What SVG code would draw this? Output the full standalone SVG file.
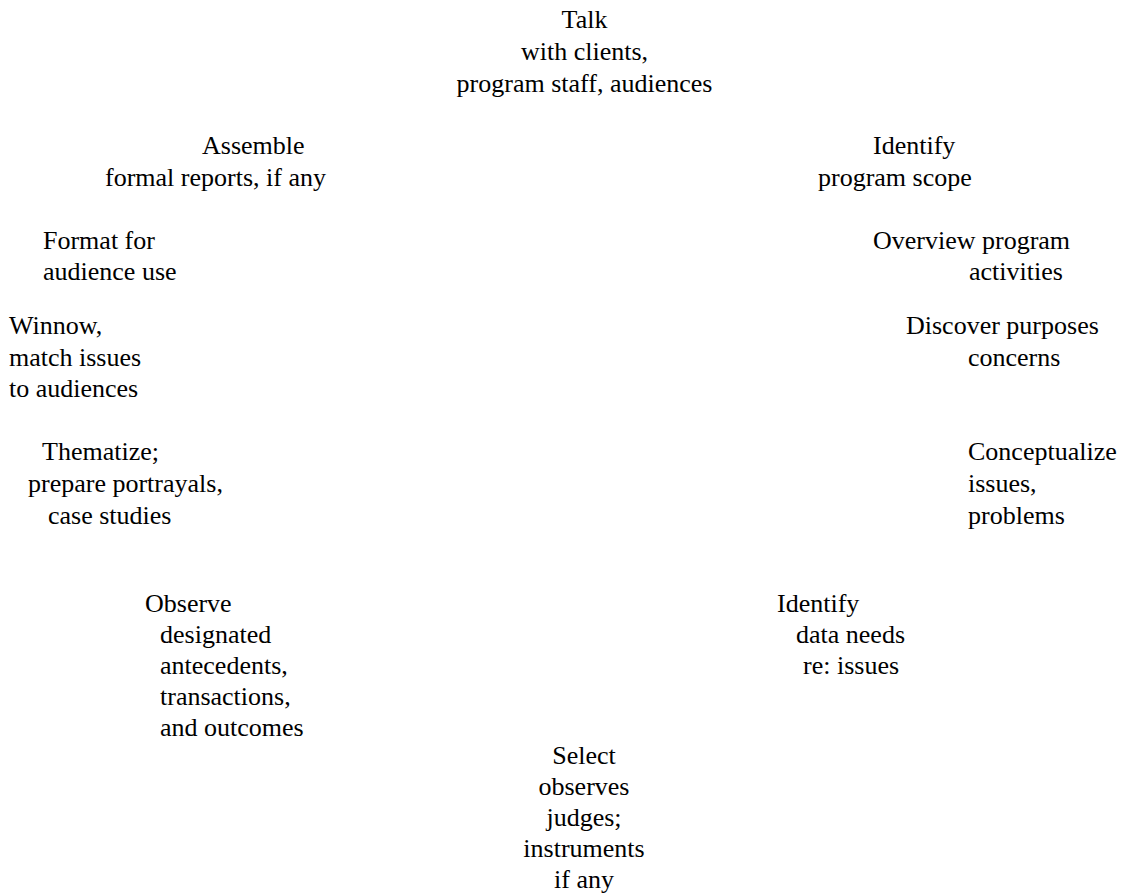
<svg xmlns="http://www.w3.org/2000/svg" width="1125" height="895" viewBox="0 0 1125 895">
  <style>
    text { font-family: "Liberation Serif", "Times New Roman", serif; font-size: 26px; fill: #000; }
    .mid { text-anchor: middle; }
  </style>
  <rect width="1125" height="895" fill="#fff"/>

  <!-- steps arranged clockwise around the cycle, starting at the top -->
  <g id="talk">
    <text class="mid" x="584.5" y="28">Talk</text>
    <text class="mid" x="584.5" y="60">with clients,</text>
    <text class="mid" x="584.5" y="92">program staff, audiences</text>
  </g>

  <g id="identify-scope">
    <text x="873" y="154">Identify</text>
    <text x="818" y="186">program scope</text>
  </g>

  <g id="overview-activities">
    <text x="873" y="249">Overview program</text>
    <text x="969" y="280">activities</text>
  </g>

  <g id="discover-purposes">
    <text x="906" y="334">Discover purposes</text>
    <text x="968" y="366">concerns</text>
  </g>

  <g id="conceptualize-issues">
    <text x="968" y="460">Conceptualize</text>
    <text x="968" y="492">issues,</text>
    <text x="968" y="524">problems</text>
  </g>

  <g id="identify-data-needs">
    <text x="777" y="612">Identify</text>
    <text x="796" y="643">data needs</text>
    <text x="803" y="674">re: issues</text>
  </g>

  <g id="select-observers">
    <text class="mid" x="584" y="764">Select</text>
    <text class="mid" x="584" y="795">observes</text>
    <text class="mid" x="584" y="826">judges;</text>
    <text class="mid" x="584" y="857">instruments</text>
    <text class="mid" x="584" y="888">if any</text>
  </g>

  <g id="observe">
    <text x="145" y="612">Observe</text>
    <text x="160" y="643">designated</text>
    <text x="160" y="674">antecedents,</text>
    <text x="160" y="705">transactions,</text>
    <text x="160" y="736">and outcomes</text>
  </g>

  <g id="thematize">
    <text x="42" y="460">Thematize;</text>
    <text x="28" y="492">prepare portrayals,</text>
    <text x="48" y="524">case studies</text>
  </g>

  <g id="winnow">
    <text x="9" y="334">Winnow,</text>
    <text x="9" y="366">match issues</text>
    <text x="9" y="397">to audiences</text>
  </g>

  <g id="format">
    <text x="43" y="249">Format for</text>
    <text x="43" y="280">audience use</text>
  </g>

  <g id="assemble">
    <text x="202" y="154">Assemble</text>
    <text x="105" y="186">formal reports, if any</text>
  </g>
</svg>
